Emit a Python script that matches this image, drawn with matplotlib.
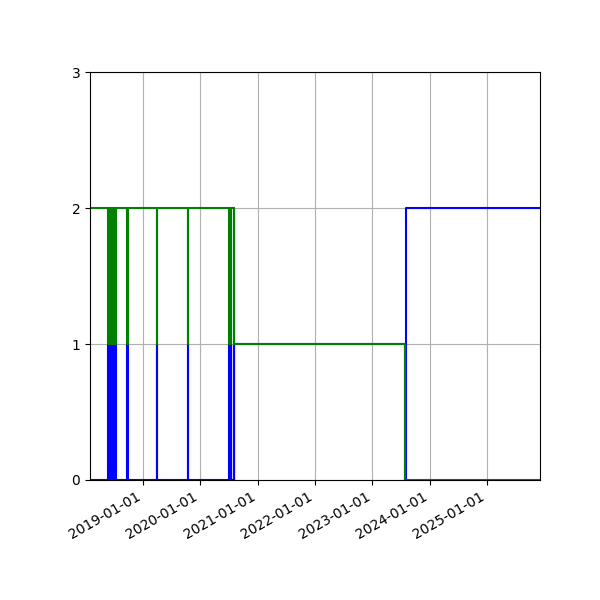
import matplotlib
matplotlib.use("Agg")
import matplotlib.pyplot as plt
import matplotlib.dates as mdates
import pandas as pd

blue_dates = ["2018-01-31",
              "2018-05-28", "2018-06-01", "2018-06-05", "2018-06-09",
              "2018-06-21", "2018-06-24", "2018-06-28", "2018-07-02",
              "2018-07-06", "2018-07-09", "2018-07-12", "2018-07-15",
              "2018-09-21", "2018-09-28", "2019-04-01", "2019-04-05",
              "2019-10-14", "2019-10-18",
              "2020-07-04", "2020-07-08", "2020-07-11", "2020-07-14",
              "2020-08-01", "2020-08-04", "2020-08-07",
              "2023-07-28", "2023-08-03", "2025-12-03"]
blue_values = [0,
               1, 0, 1, 0,
               1, 0, 1, 0,
               1, 0, 1, 0,
               1, 0, 1, 0,
               1, 0,
               1, 0, 1, 0,
               1, 0, 1,
               0, 2, 2]

green_dates = ["2018-01-31",
               "2018-05-28", "2018-06-01", "2018-06-05", "2018-06-09",
               "2018-06-21", "2018-06-24", "2018-06-28", "2018-07-02",
               "2018-07-06", "2018-07-09", "2018-07-12", "2018-07-15",
               "2018-09-21", "2018-09-28", "2019-04-01", "2019-04-05",
               "2019-10-14", "2019-10-18",
               "2020-07-04", "2020-07-08", "2020-07-11", "2020-07-14",
               "2020-08-01", "2020-08-04", "2020-08-07",
               "2023-07-28", "2025-12-03"]
green_values = [2,
                1, 2, 1, 2,
                1, 2, 1, 2,
                1, 2, 1, 2,
                1, 2, 1, 2,
                1, 2,
                1, 2, 1, 2,
                1, 2, 1,
                0, 0]

y_ticks = [0, 1, 2, 3]

fig, ax = plt.subplots(figsize=(6, 6), dpi=100)
fig.subplots_adjust(left=0.15, right=0.9, top=0.88)
bd = pd.to_datetime(blue_dates)
gd = pd.to_datetime(green_dates)
ax.plot(bd, blue_values, drawstyle="steps-post", color="blue")
ax.plot(gd, green_values, drawstyle="steps-post", color="green")
ax.set_xlim(bd[0], bd[-1])
ax.set_ylim(0, 3)
ax.set_yticks(y_ticks)
ax.xaxis.set_major_locator(mdates.YearLocator())
ax.xaxis.set_major_formatter(mdates.DateFormatter("%Y-%m-%d"))
ax.grid(True)
fig.autofmt_xdate()
fig.savefig("out.png", dpi=100)
